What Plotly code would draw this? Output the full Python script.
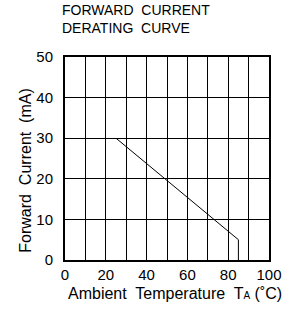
import plotly.graph_objects as go

# Derating curve data (Ambient temperature in °C, forward current in mA)
temp_c = [25, 85, 85]
current_ma = [30, 5, 0]

x_ticks = [0, 20, 40, 60, 80, 100]
y_ticks = [0, 10, 20, 30, 40, 50]
title_lines = ["FORWARD  CURRENT", "DERATING  CURVE"]
x_title = "Ambient  Temperature  T<span style='font-size:10px'>A</span> (˚C)"
y_title = "Forward  Current  (mA)"

FONT = "Liberation Sans"

fig = go.Figure()
fig.add_trace(go.Scatter(x=temp_c, y=current_ma, mode="lines",
                         line=dict(color="black", width=1), showlegend=False,
                         hoverinfo="skip"))

fig.update_layout(
    width=290, height=309,
    margin=dict(l=65, r=21, t=57, b=49, autoexpand=False),
    paper_bgcolor="white", plot_bgcolor="white",
    font=dict(family=FONT, color="black", size=14),
    annotations=[
        dict(text="<br>".join(title_lines), xref="paper", yref="paper",
             x=-0.025, y=1.0, yshift=57, xanchor="left", yanchor="top",
             align="left", showarrow=False,
             font=dict(family=FONT, size=14, color="black")),
        dict(text=x_title, xref="paper", yref="paper",
             x=0.54, y=-0.165, xanchor="center", yanchor="middle",
             showarrow=False, font=dict(family=FONT, size=16, color="black")),
        dict(text=y_title, xref="paper", yref="paper", textangle=-90,
             x=-0.195, y=0.441, xanchor="center", yanchor="middle",
             showarrow=False, font=dict(family=FONT, size=16, color="black")),
    ],
)
fig.update_xaxes(range=[0, 100], tickvals=x_ticks,
                 showgrid=True, gridcolor="black", gridwidth=1,
                 minor=dict(dtick=10, showgrid=True, gridcolor="black", gridwidth=1),
                 showline=True, linecolor="black", linewidth=2, mirror=True,
                 ticks="", zeroline=False, ticklabelstandoff=0, automargin=False,
                 tickfont=dict(size=15))
fig.update_yaxes(range=[0, 50], tickvals=y_ticks,
                 showgrid=True, gridcolor="black", gridwidth=1,
                 showline=True, linecolor="black", linewidth=2, mirror=True,
                 ticks="", zeroline=False, ticklabelstandoff=7, automargin=False,
                 tickfont=dict(size=15))

fig.write_html("out.html", config={"displayModeBar": False},
               post_script="document.body.style.margin='0';")
